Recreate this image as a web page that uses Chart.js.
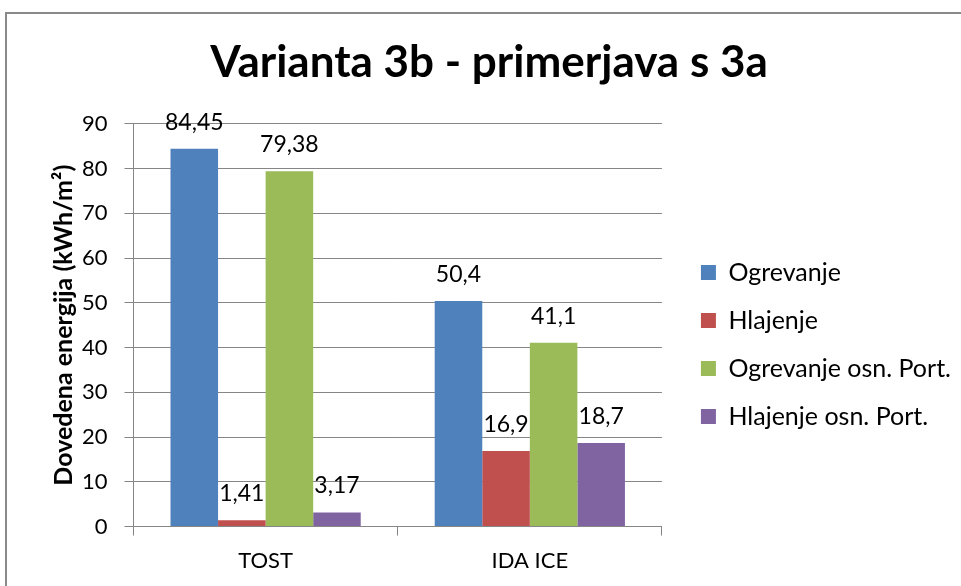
<!DOCTYPE html>
<html>
<head>
<meta charset="utf-8">
<script src="https://cdn.jsdelivr.net/npm/chart.js@4.4.1/dist/chart.umd.min.js"></script>
<style>
  html, body { margin: 0; padding: 0; background: #fff; }
  #wrap { position: relative; width: 961px; height: 586px; overflow: hidden; }
  #frame { position: absolute; left: 5px; top: 12px; width: 1000px; height: 700px; border: 2px solid #8a8a8a; box-sizing: border-box; pointer-events: none; }
  canvas { position: absolute; left: 0; top: 0; }
</style>
</head>
<body>
<div id="wrap">
  <canvas id="c" width="961" height="586"></canvas>
  <div id="frame"></div>
</div>
<script>
const categories = ["TOST", "IDA ICE"];
const seriesNames = ["Ogrevanje", "Hlajenje", "Ogrevanje osn. Port.", "Hlajenje osn. Port."];
const ogrevanje = [84.45, 50.4];
const hlajenje = [1.41, 16.9];
const ogrevanjeOsnPort = [79.38, 41.1];
const hlajenjeOsnPort = [3.17, 18.7];
const yTicks = [0, 10, 20, 30, 40, 50, 60, 70, 80, 90];
const titleText = "Varianta 3b - primerjava s 3a";
const yAxisTitle = "Dovedena energija (kWh/m²)";

const colors = ["#4F81BD", "#C0504D", "#9BBB59", "#8064A2"];
const FONT = "Lato, 'Liberation Sans', sans-serif";

const valueLabels = {
  id: "valueLabels",
  afterDatasetsDraw(chart) {
    const ctx = chart.ctx;
    ctx.save();
    ctx.font = "23px " + FONT;
    ctx.fillStyle = "#000";
    ctx.textAlign = "center";
    ctx.textBaseline = "alphabetic";
    chart.data.datasets.forEach((ds, i) => {
      const meta = chart.getDatasetMeta(i);
      meta.data.forEach((el, j) => {
        const txt = String(ds.data[j]).replace(".", ",");
        ctx.fillText(txt, el.x, el.y - 19);
      });
    });
    ctx.restore();
  }
};

const seriesData = [ogrevanje, hlajenje, ogrevanjeOsnPort, hlajenjeOsnPort];

new Chart(document.getElementById("c"), {
  type: "bar",
  data: {
    labels: categories,
    datasets: seriesNames.map((n, i) => ({
      label: n,
      data: seriesData[i],
      backgroundColor: colors[i],
      borderWidth: 0,
      categoryPercentage: 0.72,
      barPercentage: 1.0
    }))
  },
  options: {
    responsive: false,
    animation: false,
    devicePixelRatio: 1,
    layout: { padding: { left: 17, right: 0, top: 0, bottom: 0 } },
    plugins: {
      tooltip: { enabled: false },
      title: {
        display: true,
        text: titleText,
        color: "#000",
        font: { family: FONT, size: 44, weight: "bold" },
        padding: { top: 36, bottom: 35 }
      },
      legend: {
        position: "right",
        maxWidth: 400,
        title: {
          display: true,
          text: " ",
          font: { family: FONT, size: 10 },
          padding: { top: 91, bottom: 0 }
        },
        labels: {
          color: "#000",
          font: { family: FONT, size: 25 },
          boxWidth: 15,
          boxHeight: 15,
          padding: 23
        }
      }
    },
    scales: {
      x: {
        offset: true,
        grid: { drawOnChartArea: false, drawTicks: true, tickLength: 9, color: "#868686", offset: true },
        border: { color: "#868686", width: 1 },
        ticks: { color: "#000", font: { family: FONT, size: 22 }, padding: 12 }
      },
      y: {
        min: 0,
        max: 90,
        afterBuildTicks(axis) { axis.ticks = yTicks.map(v => ({ value: v })); },
        afterFit(s) { s.width -= 16; },
        grid: { color: "#868686", tickLength: 9 },
        border: { color: "#868686", width: 1 },
        ticks: { color: "#000", font: { family: FONT, size: 22 }, padding: 17 },
        title: {
          display: true,
          text: yAxisTitle,
          color: "#000",
          font: { family: FONT, size: 25, weight: "bold" },
          padding: { top: 32, bottom: 2 }
        }
      },
      gap: {
        type: "linear",
        position: "right",
        display: true,
        grid: { display: false },
        border: { display: false },
        ticks: { display: false },
        afterFit(s) { s.width = 16; }
      }
    }
  },
  plugins: [valueLabels]
});
</script>
</body>
</html>
